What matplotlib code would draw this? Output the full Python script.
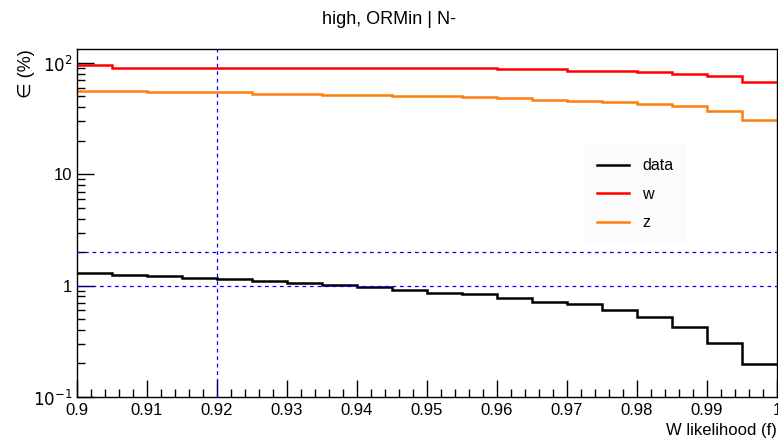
import numpy as np
import matplotlib
matplotlib.use('Agg')
import matplotlib.pyplot as plt
from matplotlib.ticker import FixedLocator, MultipleLocator, NullFormatter

plt.rcParams['font.family'] = ['Liberation Sans', 'DejaVu Sans']

# 20 bins of width 0.005 between 0.9 and 1.0
edges = np.linspace(0.9, 1.0, 21)

data_eff = [1.31, 1.255, 1.23, 1.17, 1.15, 1.10, 1.05, 1.01, 0.966, 0.914,
            0.865, 0.836, 0.769, 0.718, 0.68, 0.60, 0.527, 0.429, 0.308, 0.199]
w_eff = [95.4, 90.8, 90.8, 90.8, 90.8, 90.8, 90.8, 90.8, 89.8, 89.8,
         89.5, 89.5, 87.8, 87.8, 85.3, 85.3, 83.6, 79.8, 77.1, 67.3]
z_eff = [55.9, 55.9, 54.3, 54.3, 54.3, 52.9, 52.9, 51.8, 51.8, 50.8,
         50.8, 49.4, 48.0, 46.7, 45.8, 44.9, 43.1, 40.7, 37.1, 31.0]

series_labels = ['data', 'w', 'z']
series_colors = ['black', '#ff0000', '#ff7f0e']

cut_x = 0.92
ref_levels = [1, 2]

fig = plt.figure(figsize=(7.78, 4.43), dpi=100)
ax = fig.add_axes([0.099, 0.1038, 0.8997, 0.7852])

for vals, lab, col in zip([data_eff, w_eff, z_eff], series_labels, series_colors):
    ax.stairs(vals, edges, color=col, lw=1.8, label=lab, baseline=None)

for lv in ref_levels:
    ax.axhline(lv, color='#0000ff', ls=(0, (3, 3)), lw=0.9)
ax.axvline(cut_x, color='#0000ff', ls=(0, (3, 3)), lw=0.9)

ax.set_yscale('log')
ax.set_xlim(0.9, 1.0)
ax.set_ylim(0.1, 133)

ax.yaxis.set_major_locator(FixedLocator([0.1, 1, 10, 100]))
ax.set_yticklabels(['$10^{-1}$', '1', '10', '$10^{2}$'])
minors = [m * 10.0 ** e for e in range(-1, 2) for m in range(2, 10)] + [200]
ax.yaxis.set_minor_locator(FixedLocator(minors))
ax.yaxis.set_minor_formatter(NullFormatter())

ax.xaxis.set_major_locator(MultipleLocator(0.01))
ax.xaxis.set_minor_locator(MultipleLocator(0.002))
xt = np.round(np.arange(0.9, 1.0001, 0.01), 2)
ax.set_xticks(xt)
ax.set_xticklabels([('%g' % v) for v in xt])

ax.tick_params(which='both', direction='in', top=False, right=False, labelsize=12)
ax.tick_params(which='major', length=12, width=1)
ax.tick_params(which='minor', length=6, width=1)
ax.tick_params(axis='x', pad=4)

for s in ax.spines.values():
    s.set_linewidth(1.0)

fig.text(0.5, 0.955, 'high, ORMin | N-', ha='center', va='center', fontsize=13)
ax.set_xlabel('W likelihood (f)', fontsize=12, loc='right')
ax.set_ylabel('∈ (%)', fontsize=13, loc='top')
ax.yaxis.set_label_coords(-0.072, 1.0)
ax.yaxis.label.set_va('center')

leg = ax.legend(loc='upper left', bbox_to_anchor=(0.741, 0.69), bbox_transform=fig.transFigure,
                frameon=True, fontsize=11.5, handlelength=2.0, labelspacing=0.85,
                borderpad=0.8, fancybox=False)
leg.get_frame().set_facecolor('#fafafa')
leg.get_frame().set_edgecolor('none')

fig.savefig('out.png', dpi=100)
